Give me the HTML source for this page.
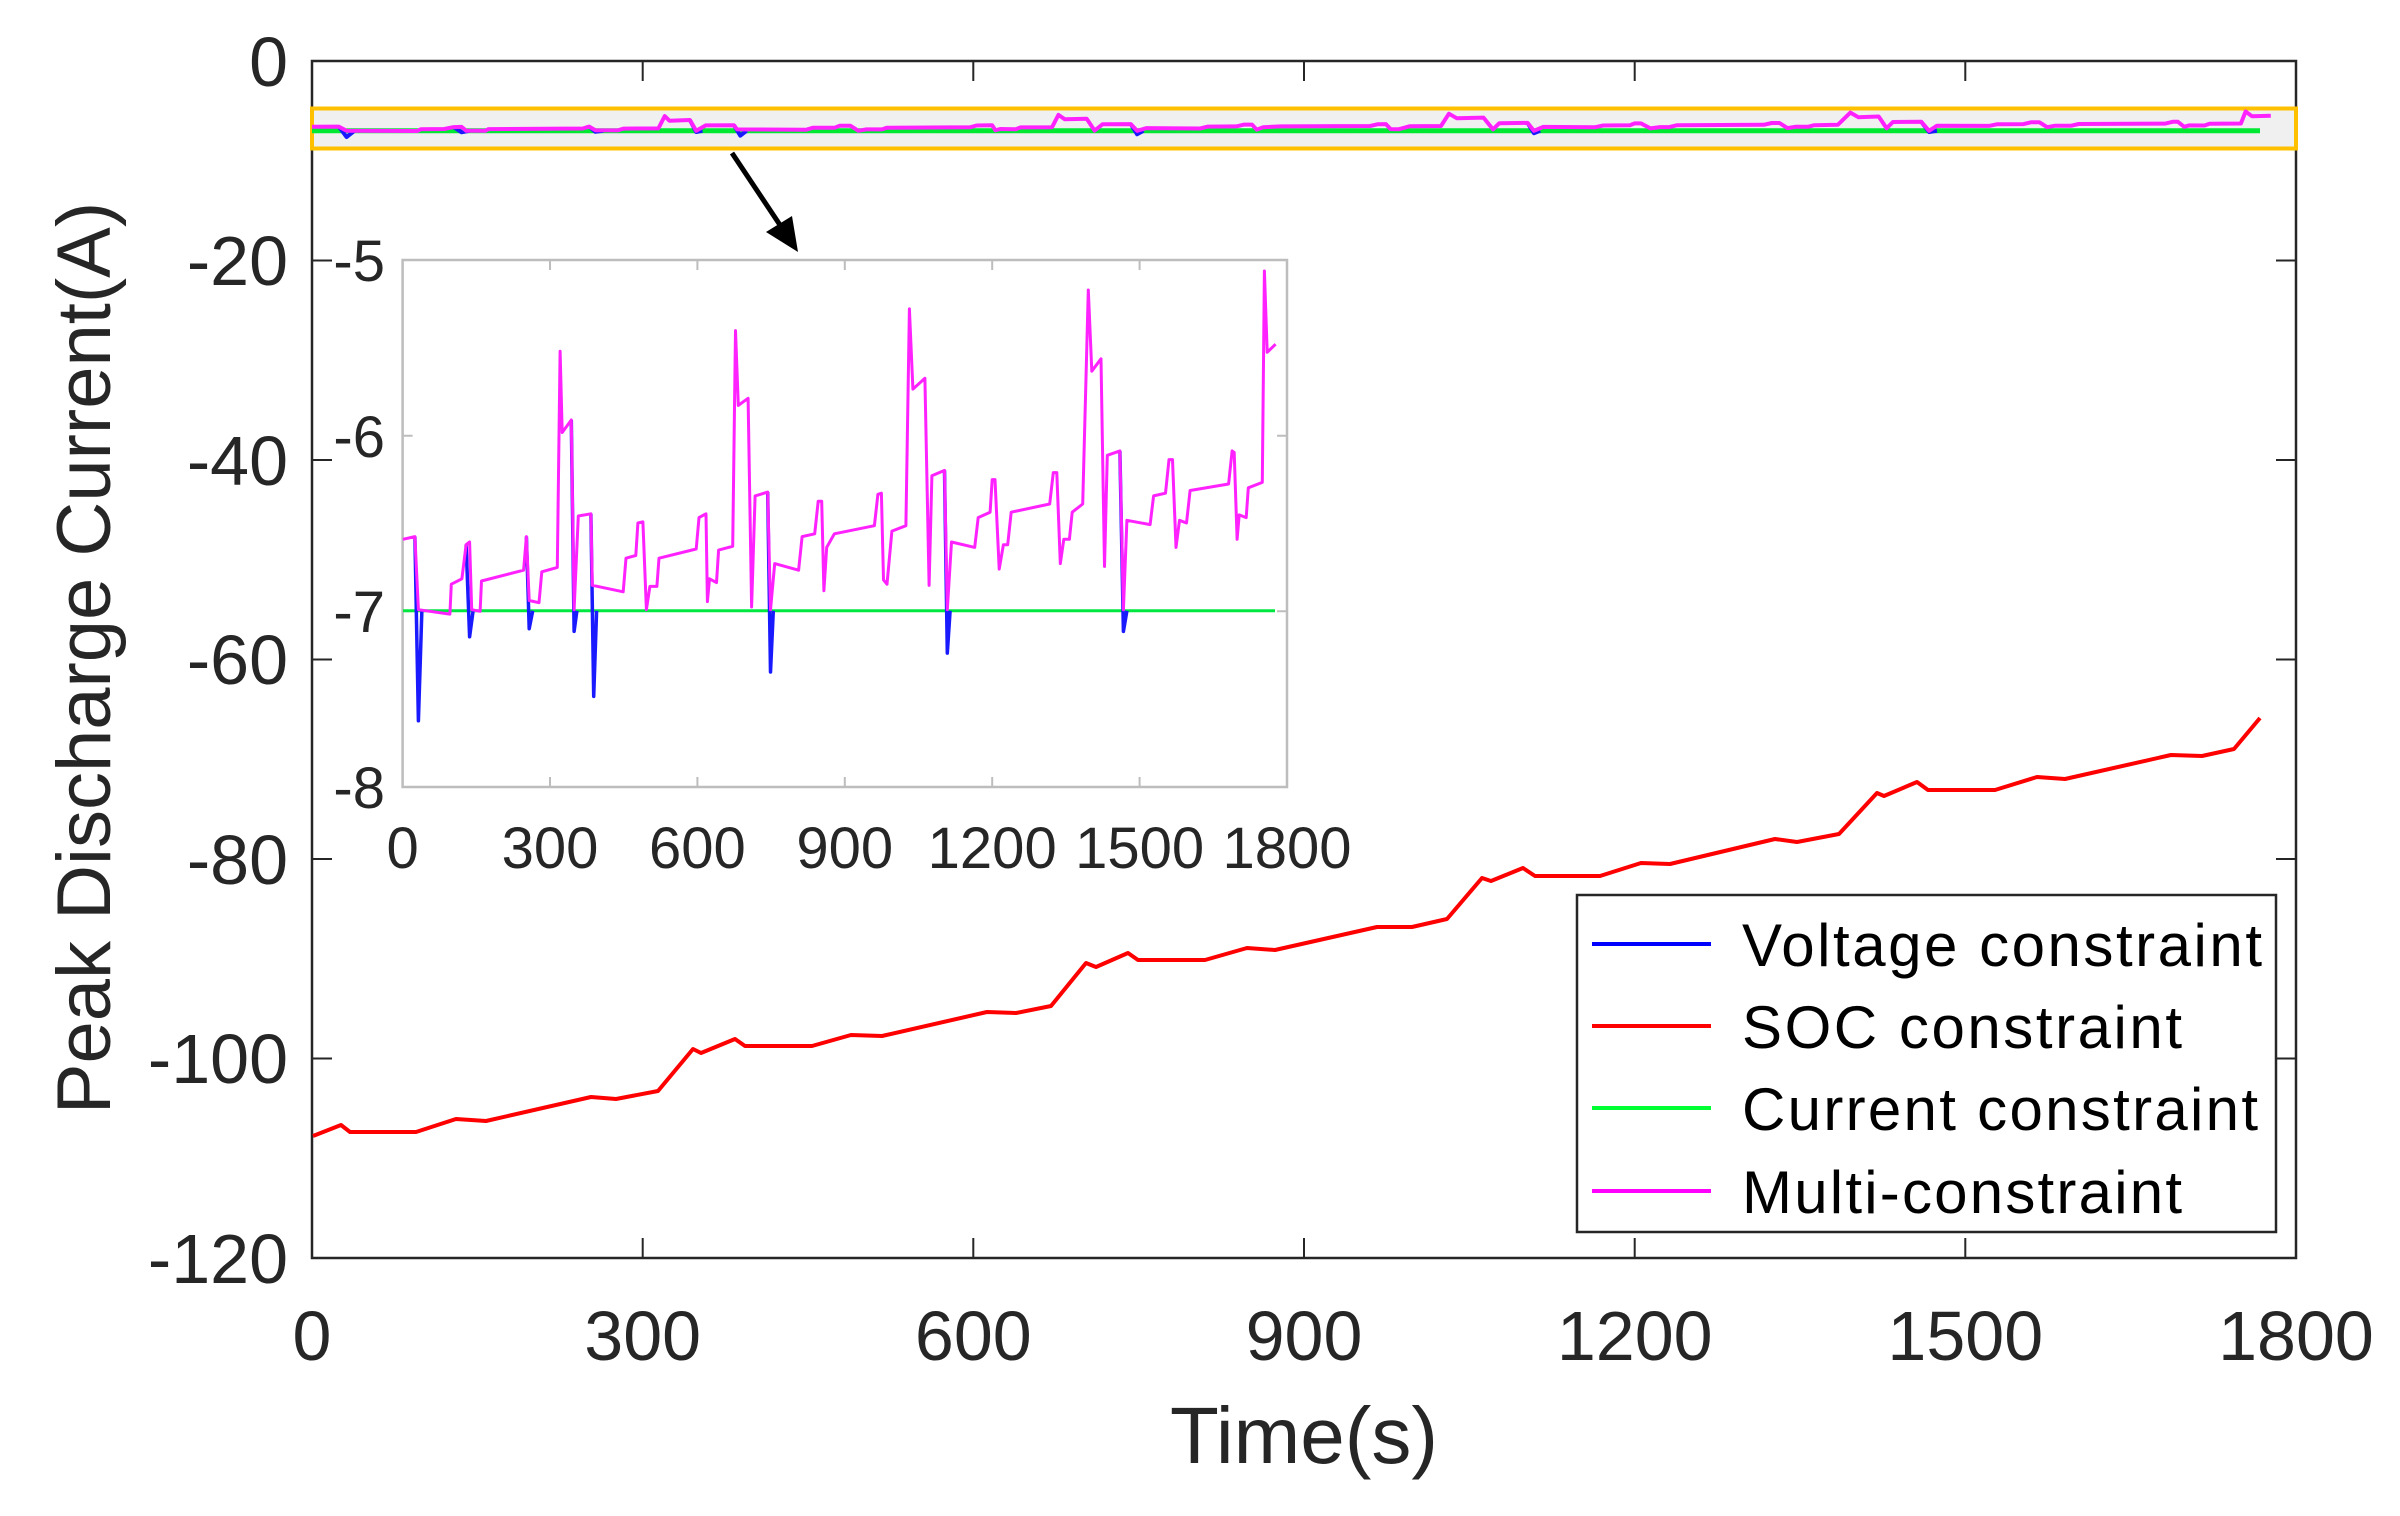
<!DOCTYPE html>
<html><head><meta charset="utf-8"><style>
html,body{margin:0;padding:0;background:#fff}
svg{display:block}
text{font-family:"Liberation Sans",Arial,sans-serif;fill:#262626}
</style></head><body>
<svg id="s" width="2400" height="1516" viewBox="0 0 2400 1516" xmlns="http://www.w3.org/2000/svg">
<rect x="312" y="61" width="1984" height="1197" fill="#fff" stroke="#262626" stroke-width="2.5"/>
<g stroke="#262626" stroke-width="2">
<path d="M642.7,1258v-20 M973.3,1258v-20 M1304,1258v-20 M1634.7,1258v-20 M1965.3,1258v-20
M642.7,61v20 M973.3,61v20 M1304,61v20 M1634.7,61v20 M1965.3,61v20
M312,260.5h20 M312,460h20 M312,659.5h20 M312,859h20 M312,1058.5h20
M2296,260.5h-20 M2296,460h-20 M2296,659.5h-20 M2296,859h-20 M2296,1058.5h-20"/>
</g>
<g font-size="70" text-anchor="end">
<text x="288" y="86">0</text>
<text x="288" y="285">-20</text>
<text x="288" y="485">-40</text>
<text x="288" y="684">-60</text>
<text x="288" y="884">-80</text>
<text x="288" y="1083">-100</text>
<text x="288" y="1283">-120</text>
</g>
<g font-size="70" text-anchor="middle">
<text x="312" y="1360">0</text>
<text x="642.7" y="1360">300</text>
<text x="973.3" y="1360">600</text>
<text x="1304" y="1360">900</text>
<text x="1634.7" y="1360">1200</text>
<text x="1965.3" y="1360">1500</text>
<text x="2296" y="1360">1800</text>
</g>
<text x="1304" y="1463" font-size="80" text-anchor="middle">Time(s)</text>
<text transform="translate(110,658) rotate(-90)" font-size="76" text-anchor="middle">Peak Discharge Current(A)</text>

<rect x="312" y="108.5" width="1984" height="40" fill="#f0f0f0" stroke="#ffc000" stroke-width="4"/>
<line x1="312" y1="130.8" x2="2260" y2="130.8" stroke="#00e832" stroke-width="5"/>
<g id="band"></g>

<polyline fill="none" stroke="#ff0000" stroke-width="4" stroke-linejoin="round" points="313,1136 341,1125 350,1132 416,1132 456,1119 486,1121 591,1097 616,1099 658,1091 693,1049 701,1053 735,1039 745,1046 812,1046 851,1035 882,1036 987,1012 1016,1013 1051,1006 1086,963 1096,967 1128,953 1138,960 1205,960 1247,948 1275,950 1377,927 1380,927 1412,927 1447,919 1482,878 1491,881 1523,868 1535,876 1600,876 1641,863 1670,864 1775,839 1797,842 1839,834 1877,793 1884,796 1917,782 1928,790 1995,790 2037,777 2065,779 2171,755 2202,756 2234,749 2260,718"/>

<line x1="732" y1="153" x2="782" y2="228" stroke="#000" stroke-width="5"/>
<polygon points="798,252 766,232 792,216" fill="#000"/>

<rect x="402.6" y="260" width="884.4" height="527" fill="#fff" stroke="#bdbdbd" stroke-width="2.5"/>
<g stroke="#bdbdbd" stroke-width="2">
<path d="M550,787v-10 M697.4,787v-10 M844.8,787v-10 M992.2,787v-10 M1139.6,787v-10
M550,260v10 M697.4,260v10 M844.8,260v10 M992.2,260v10 M1139.6,260v10
M402.6,435.7h10 M402.6,611.3h10 M1287,435.7h-10 M1287,611.3h-10"/>
</g>
<line x1="403" y1="610.8" x2="1275" y2="610.8" stroke="#00e840" stroke-width="3"/>
<g id="inset"></g>
<g font-size="58" text-anchor="end">
<text x="385" y="281">-5</text>
<text x="385" y="457">-6</text>
<text x="385" y="632">-7</text>
<text x="385" y="808">-8</text>
</g>
<g font-size="58" text-anchor="middle">
<text x="402.6" y="868">0</text>
<text x="550" y="868">300</text>
<text x="697.4" y="868">600</text>
<text x="844.8" y="868">900</text>
<text x="992.2" y="868">1200</text>
<text x="1139.6" y="868">1500</text>
<text x="1287" y="868">1800</text>
</g>

<rect x="1577" y="895" width="699" height="337" fill="#fff" stroke="#262626" stroke-width="2.5"/>
<g stroke-width="4">
<line x1="1592" y1="944" x2="1711" y2="944" stroke="#0000ff"/>
<line x1="1592" y1="1026" x2="1711" y2="1026" stroke="#ff0000"/>
<line x1="1592" y1="1108" x2="1711" y2="1108" stroke="#00ff33"/>
<line x1="1592" y1="1191" x2="1711" y2="1191" stroke="#ff00ff"/>
</g>
<g font-size="60">
<text x="1742" y="966" textLength="520" style="fill:#000">Voltage constraint</text>
<text x="1742" y="1048" textLength="440" style="fill:#000">SOC constraint</text>
<text x="1742" y="1130" textLength="516" style="fill:#000">Current constraint</text>
<text x="1742" y="1213" textLength="440" style="fill:#000">Multi-constraint</text>
</g>
</svg>
<script>
(function(){
var mag="218,995 235,990 240,1125 285,1133 287,1078 302,1068 308,1005 313,1000 316,1125 328,1128 330,1072 390,1052 394,990 398,1108 412,1112 416,1055 438,1047 442,648 445,798 458,775 462,1125 468,952 486,948 488,1080 532,1092 536,1030 550,1025 553,965 560,963 565,1125 570,1082 580,1082 583,1030 636,1013 640,955 650,948 652,1110 655,1068 665,1075 668,1015 688,1008 692,610 696,748 710,735 715,1120 720,915 738,908 742,1125 748,1040 782,1052 787,990 805,985 810,925 815,925 818,1090 822,1010 833,985 890,970 895,912 900,910 903,1070 908,1078 915,980 935,970 940,570 945,718 962,698 968,1080 972,878 990,868 994,1125 1000,1000 1033,1010 1038,955 1055,945 1058,885 1062,885 1068,1050 1074,1005 1080,1005 1085,945 1140,930 1145,872 1150,872 1155,1040 1160,995 1168,995 1172,945 1187,930 1195,535 1200,685 1213,662 1218,1045 1222,840 1240,832 1245,1125 1250,960 1283,968 1288,915 1305,910 1310,848 1315,848 1320,1010 1325,960 1335,965 1340,905 1395,893 1400,832 1403,835 1407,995 1410,950 1420,955 1423,900 1443,890 1446,500 1450,650 1462,635";
var blu=["235,990 240,1330 245,1125","308,1005 313,1175 318,1127","394,990 398,1160 403,1127","458,775 462,1165 466,1127","486,948 490,1285 494,1127","738,908 742,1240 746,1127","990,868 994,1205 998,1127","1240,832 1245,1165 1250,1127"];
var NS="http://www.w3.org/2000/svg";
function conv(str,fx,fy){return str.split(" ").map(function(p){var a=p.split(",");return fx(+a[0]).toFixed(1)+","+fy(+a[1]).toFixed(1);}).join(" ");}
function add(g,pts,col,w){var e=document.createElementNS(NS,"polyline");e.setAttribute("points",pts);e.setAttribute("fill","none");e.setAttribute("stroke",col);e.setAttribute("stroke-width",w);e.setAttribute("stroke-linejoin","round");g.appendChild(e);}
var ix=function(x){return 250+x*0.70153;}, iy=function(y){return y*0.54197;};
var bx=function(x){return -31.26+x*1.5746;}, by=function(y){return 96.19+y*0.03072;};
var gi=document.getElementById("inset"), gb=document.getElementById("band");
blu.forEach(function(b){add(gi,conv(b,ix,iy),"#1a1aff",3.5);add(gb,conv(b,bx,by),"#1a1aff",4);});
add(gi,conv(mag,ix,iy),"#ff22ff",3);
add(gb,conv(mag,bx,by),"#ff22ff",4);
})();
</script>
</body></html>
